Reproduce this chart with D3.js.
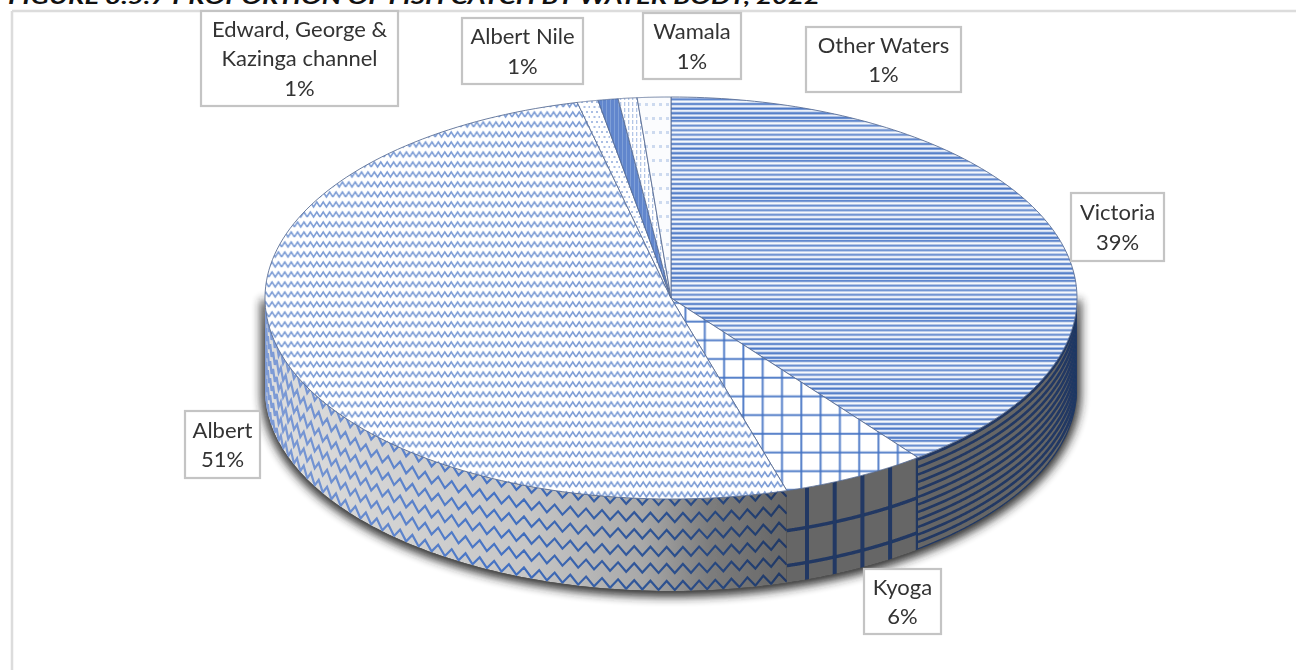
<!DOCTYPE html>
<html><head><meta charset="utf-8">
<style>html,body{margin:0;padding:0;background:#fff}svg{display:block}</style>
<script src="https://cdn.jsdelivr.net/npm/d3@7"></script></head><body>
<svg id="c" width="1296" height="670"></svg>
<script>
const categories=["Victoria","Kyoga","Albert","Edward, George & Kazinga channel","Albert Nile","Wamala","Other Waters"];
const labelLines=[["Victoria"],["Kyoga"],["Albert"],["Edward, George &","Kazinga channel"],["Albert Nile"],["Wamala"],["Other Waters"]];
const shares=[39.6,5.8,50.9,0.83,0.8,0.75,1.33];
const percentLabels=["39%","6%","51%","1%","1%","1%","1%"];
const title="FIGURE 3.5.7 PROPORTION OF FISH CATCH BY WATER BODY, 2022";
const boxes=[[1071,193,93,68],[864,569,77,65],[185,411,75,67],[201,11,197,95],[462,18,121,66],[643,13,98,66],[806,27,155,65]];

const svg=d3.select("#c");
const W=1296,H=670,cx=671,cy=298,rx=406,ry=201,depth=92;
const BLUE="#4472c4",NAVY="#203864";
const defs=svg.append("defs");
defs.append("filter").attr("id","soft").attr("x","-2%").attr("y","-2%").attr("width","104%").attr("height","104%")
  .append("feGaussianBlur").attr("stdDeviation",0.6);
defs.append("filter").attr("id","shadow").attr("x","-10%").attr("y","-10%").attr("width","120%").attr("height","120%")
  .append("feGaussianBlur").attr("stdDeviation",5);

const pie=d3.pie().sort(null).value(d=>d);
const arcs=pie(shares);
const px=a=>cx+rx*Math.sin(a), py=a=>cy-ry*Math.cos(a);
const line=d3.line();
const sampled=(a0,a1,n=120)=>d3.range(n+1).map(i=>a0+(a1-a0)*i/n);

// ---- patterns for the top face
function pat(id,w,h){return defs.append("pattern").attr("id",id).attr("patternUnits","userSpaceOnUse").attr("width",w).attr("height",h);}
const stripeRows=[.85,.7,.2,.05,.4,.8,.55,.1,.15,.6,.75,.35,.05,.35,.75,.6,.15,.1,.6,.85,.4,.05,.25,.8,.8,.25,.1,.5,.95,.7,.1,.25,.75,.9,.45,.1,.45,.9,.8,.25];
const vp=pat("p0",8,stripeRows.length);
vp.append("rect").attr("width",8).attr("height",stripeRows.length).attr("fill","#fff");
stripeRows.forEach((o,i)=>vp.append("rect").attr("y",i).attr("width",8).attr("height",1).attr("fill",BLUE).attr("opacity",o));
const kp=pat("p1",19.3,18.7);
kp.append("rect").attr("width",19.3).attr("height",18.7).attr("fill","#fff");
kp.append("rect").attr("x",9).attr("width",2).attr("height",18.7).attr("fill",BLUE).attr("opacity",.9);
kp.append("rect").attr("y",2.7).attr("width",19.3).attr("height",2).attr("fill",BLUE).attr("opacity",.9);
const zz=[[0,7],[3.2,2],[6.4,7],[9.6,2],[12.8,7]];
const ap=pat("p2",12.8,10);
ap.append("rect").attr("width",12.8).attr("height",10).attr("fill","#fff");
ap.append("path").attr("d",line(zz)).attr("fill","none").attr("stroke",BLUE).attr("stroke-width",1.5).attr("opacity",.7);
const ep=pat("p3",10,10);
ep.append("rect").attr("width",10).attr("height",10).attr("fill","#fff");
[[1,1],[6,1],[3.5,6],[8.5,6]].forEach(d=>ep.append("rect").attr("x",d[0]).attr("y",d[1]).attr("width",2).attr("height",2).attr("fill",BLUE).attr("opacity",.45));
const np=pat("p4",4,4);
np.append("rect").attr("width",4).attr("height",4).attr("fill",BLUE).attr("opacity",.85);
np.append("rect").attr("x",2).attr("width",1).attr("height",4).attr("fill","#fff").attr("opacity",.2);
const wp=pat("p5",4,6);
wp.append("rect").attr("width",4).attr("height",6).attr("fill","#fff");
wp.append("rect").attr("width",1.3).attr("height",4).attr("fill",BLUE).attr("opacity",.4);
const op=pat("p6",7,14);
op.append("rect").attr("width",7).attr("height",14).attr("fill","#fbfcfe");
op.append("rect").attr("y",5).attr("x",1).attr("width",3).attr("height",3).attr("fill",BLUE).attr("opacity",.25);

// ---- frame
const frame=svg.append("g").attr("stroke","#dcdcdc").attr("stroke-width",2.5).attr("fill","none");
frame.append("line").attr("x1",12).attr("y1",11).attr("x2",W).attr("y2",11);
frame.append("line").attr("x1",12).attr("y1",11).attr("x2",12).attr("y2",H);

// ---- title, clipped by the window top as in the reference
svg.append("text").attr("x",8).attr("y",4).attr("font-family","Lato").attr("font-weight",700).attr("font-style","italic")
  .attr("font-size",21).attr("fill","#111").attr("textLength",812).attr("lengthAdjust","spacingAndGlyphs").text(title);

// ---- shadow behind the wall
const rim=sampled(Math.PI/2,Math.PI*1.5,200);
const wallPts=[...rim.map(a=>[px(a),py(a)+depth]),...rim.slice().reverse().map(a=>[px(a),py(a)])];
svg.append("path").attr("d",line(wallPts)+"Z").attr("transform","translate(0,2)").attr("fill","#222").attr("stroke","#222").attr("stroke-width",8).attr("opacity",.9).attr("filter","url(#shadow)");

const pie3d=svg.append("g").attr("filter","url(#soft)");
// ---- wall
const grad=defs.append("linearGradient").attr("id","wallShade").attr("gradientUnits","userSpaceOnUse").attr("x1",265).attr("x2",790).attr("y1",0).attr("y2",0);
[[0,"#dedede"],[.5,"#c6c6c6"],[.72,"#a8a8a8"],[.85,"#7c7c7c"],[1,"#666"]].forEach(d=>grad.append("stop").attr("offset",d[0]).attr("stop-color",d[1]));
const lineGrad=defs.append("linearGradient").attr("id","wallInk").attr("gradientUnits","userSpaceOnUse").attr("x1",265).attr("x2",790).attr("y1",0).attr("y2",0);
[[0,"#7f9cd6"],[.45,BLUE],[.72,"#2f5597"],[1,NAVY]].forEach(d=>lineGrad.append("stop").attr("offset",d[0]).attr("stop-color",d[1]));

function wallSeg(a0,a1){
  const s=sampled(a0,a1,100);
  return line([...s.map(a=>[px(a),py(a)]),...s.slice().reverse().map(a=>[px(a),py(a)+depth])])+"Z";
}
arcs.forEach((d,i)=>{
  const a0=Math.max(d.startAngle,Math.PI/2),a1=Math.min(d.endAngle,Math.PI*1.5);
  if(a1<=a0) return;
  const id="wc"+i;
  defs.append("clipPath").attr("id",id).append("path").attr("d",wallSeg(a0,a1));
  const g=pie3d.append("g").attr("clip-path",`url(#${id})`);
  g.append("path").attr("d",wallSeg(a0,a1)).attr("fill",i===2?"url(#wallShade)":"#666");
  const s=sampled(a0,a1,240);
  if(i===0){
    d3.range(2,depth+4,7.5).forEach(off=>g.append("path").attr("d",line(s.map(a=>[px(a),py(a)+off]))).attr("fill","none").attr("stroke",NAVY).attr("stroke-width",2.6));
  }
  if(i===1){
    [40,75].forEach(off=>g.append("path").attr("d",line(s.map(a=>[px(a),py(a)+off]))).attr("fill","none").attr("stroke",NAVY).attr("stroke-width",3.4));
    d3.range(807,925,27.7).forEach(x=>g.append("line").attr("x1",x).attr("x2",x).attr("y1",py(a0)-60).attr("y2",py(a0)+depth+60).attr("stroke",NAVY).attr("stroke-width",4));
  }
  if(i===2){
    d3.range(6,depth+24,17).forEach(off=>{
      const toothAngles=d3.range(a0,a1+.03,.02);
      const pts=toothAngles.map((a,k)=>[px(a),py(a)+off-(k%2?9:0)]);
      g.append("path").attr("d",line(pts)).attr("fill","none").attr("stroke","url(#wallInk)").attr("stroke-width",2.2);
    });
  }
});
// ---- top face
arcs.forEach((d,i)=>{
  const s=sampled(d.startAngle,d.endAngle);
  pie3d.append("path").attr("d",line([[cx,cy],...s.map(a=>[px(a),py(a)])])+"Z")
    .attr("fill",`url(#p${i})`).attr("stroke","#5b6f96").attr("stroke-width",.9);
});

// ---- labels
const lab=svg.append("g");
categories.forEach((c,i)=>{
  const [x,y,w,h]=boxes[i];
  lab.append("rect").attr("x",x).attr("y",y).attr("width",w).attr("height",h).attr("fill","#fff").attr("stroke","#c4c4c4").attr("stroke-width",2.2);
  const lines=[...labelLines[i],percentLabels[i]];
  const lh=29.5,start=y+h/2-(lines.length-1)*lh/2;
  lines.forEach((t,k)=>lab.append("text").attr("x",x+w/2).attr("y",start+k*lh).attr("dy",".36em").attr("text-anchor","middle")
    .attr("font-family","Lato").attr("font-size",22).attr("fill","#333").text(t));
});
</script></body></html>
